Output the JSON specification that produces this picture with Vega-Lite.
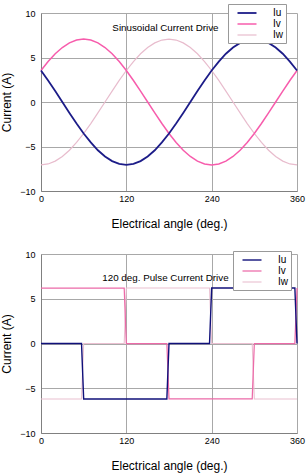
{
  "$schema": "https://vega.github.io/schema/vega-lite/v6.json",
  "background": "white",
  "padding": {"left": 0, "top": 3, "right": 8, "bottom": 2},
  "spacing": 21,
  "datasets": {
    "sine": [
      {"angle": 0, "Iu": 3.54, "Iv": 3.54, "Iw": -7.07},
      {"angle": 10, "Iu": 2.42, "Iv": 4.54, "Iw": -6.96},
      {"angle": 20, "Iu": 1.23, "Iv": 5.42, "Iw": -6.64},
      {"angle": 30, "Iu": 0, "Iv": 6.12, "Iw": -6.12},
      {"angle": 40, "Iu": -1.23, "Iv": 6.64, "Iw": -5.42},
      {"angle": 50, "Iu": -2.42, "Iv": 6.96, "Iw": -4.54},
      {"angle": 60, "Iu": -3.54, "Iv": 7.07, "Iw": -3.54},
      {"angle": 70, "Iu": -4.54, "Iv": 6.96, "Iw": -2.42},
      {"angle": 80, "Iu": -5.42, "Iv": 6.64, "Iw": -1.23},
      {"angle": 90, "Iu": -6.12, "Iv": 6.12, "Iw": 0},
      {"angle": 100, "Iu": -6.64, "Iv": 5.42, "Iw": 1.23},
      {"angle": 110, "Iu": -6.96, "Iv": 4.54, "Iw": 2.42},
      {"angle": 120, "Iu": -7.07, "Iv": 3.54, "Iw": 3.54},
      {"angle": 130, "Iu": -6.96, "Iv": 2.42, "Iw": 4.54},
      {"angle": 140, "Iu": -6.64, "Iv": 1.23, "Iw": 5.42},
      {"angle": 150, "Iu": -6.12, "Iv": 0, "Iw": 6.12},
      {"angle": 160, "Iu": -5.42, "Iv": -1.23, "Iw": 6.64},
      {"angle": 170, "Iu": -4.54, "Iv": -2.42, "Iw": 6.96},
      {"angle": 180, "Iu": -3.54, "Iv": -3.54, "Iw": 7.07},
      {"angle": 190, "Iu": -2.42, "Iv": -4.54, "Iw": 6.96},
      {"angle": 200, "Iu": -1.23, "Iv": -5.42, "Iw": 6.64},
      {"angle": 210, "Iu": 0, "Iv": -6.12, "Iw": 6.12},
      {"angle": 220, "Iu": 1.23, "Iv": -6.64, "Iw": 5.42},
      {"angle": 230, "Iu": 2.42, "Iv": -6.96, "Iw": 4.54},
      {"angle": 240, "Iu": 3.54, "Iv": -7.07, "Iw": 3.54},
      {"angle": 250, "Iu": 4.54, "Iv": -6.96, "Iw": 2.42},
      {"angle": 260, "Iu": 5.42, "Iv": -6.64, "Iw": 1.23},
      {"angle": 270, "Iu": 6.12, "Iv": -6.12, "Iw": 0},
      {"angle": 280, "Iu": 6.64, "Iv": -5.42, "Iw": -1.23},
      {"angle": 290, "Iu": 6.96, "Iv": -4.54, "Iw": -2.42},
      {"angle": 300, "Iu": 7.07, "Iv": -3.54, "Iw": -3.54},
      {"angle": 310, "Iu": 6.96, "Iv": -2.42, "Iw": -4.54},
      {"angle": 320, "Iu": 6.64, "Iv": -1.23, "Iw": -5.42},
      {"angle": 330, "Iu": 6.12, "Iv": 0, "Iw": -6.12},
      {"angle": 340, "Iu": 5.42, "Iv": 1.23, "Iw": -6.64},
      {"angle": 350, "Iu": 4.54, "Iv": 2.42, "Iw": -6.96},
      {"angle": 360, "Iu": 3.54, "Iv": 3.54, "Iw": -7.07}
    ],
    "pulse": [
      {"phase": "Iw", "angle": 0, "current": -6.2},
      {"phase": "Iw", "angle": 57, "current": -6.2},
      {"phase": "Iw", "angle": 60, "current": 0},
      {"phase": "Iw", "angle": 117, "current": 0},
      {"phase": "Iw", "angle": 120, "current": 6.2},
      {"phase": "Iw", "angle": 237, "current": 6.2},
      {"phase": "Iw", "angle": 240, "current": 0},
      {"phase": "Iw", "angle": 297, "current": 0},
      {"phase": "Iw", "angle": 300, "current": -6.2},
      {"phase": "Iw", "angle": 360, "current": -6.2},
      {"phase": "Iv", "angle": 0, "current": 6.2},
      {"phase": "Iv", "angle": 117, "current": 6.2},
      {"phase": "Iv", "angle": 120, "current": 0},
      {"phase": "Iv", "angle": 177, "current": 0},
      {"phase": "Iv", "angle": 180, "current": -6.2},
      {"phase": "Iv", "angle": 297, "current": -6.2},
      {"phase": "Iv", "angle": 300, "current": 0},
      {"phase": "Iv", "angle": 357, "current": 0},
      {"phase": "Iv", "angle": 360, "current": 6.2},
      {"phase": "Iu", "angle": 0, "current": 0},
      {"phase": "Iu", "angle": 57, "current": 0},
      {"phase": "Iu", "angle": 60, "current": -6.2},
      {"phase": "Iu", "angle": 177, "current": -6.2},
      {"phase": "Iu", "angle": 180, "current": 0},
      {"phase": "Iu", "angle": 237, "current": 0},
      {"phase": "Iu", "angle": 240, "current": 6.2},
      {"phase": "Iu", "angle": 357, "current": 6.2},
      {"phase": "Iu", "angle": 360, "current": 0}
    ]
  },
  "config": {
    "view": {"stroke": null},
    "font": "Liberation Sans",
    "axis": {
      "grid": true,
      "gridColor": "#a8a8a8",
      "gridWidth": 1,
      "domainColor": "#808080",
      "domainWidth": 1,
      "ticks": false,
      "labelFont": "Liberation Sans",
      "labelFontSize": 9,
      "labelColor": "#000000",
      "titleFont": "Liberation Sans",
      "titleFontSize": 12,
      "titleFontWeight": "normal",
      "titleColor": "#000000"
    },
    "axisX": {"labelPadding": 3, "titlePadding": 15, "labelFlush": false},
    "axisY": {"labelPadding": 6, "titlePadding": 6},
    "legend": {
      "orient": "none",
      "title": null,
      "symbolType": "M-1.9,0H1.9",
      "symbolSize": 100,
      "symbolOffset": 10,
      "symbolStrokeWidth": 1.5,
      "labelFont": "Liberation Sans",
      "labelFontSize": 10,
      "labelColor": "#000000",
      "labelOffset": 20,
      "rowPadding": 0,
      "padding": 3,
      "strokeColor": "#999999",
      "fillColor": "#ffffff",
      "cornerRadius": 0
    }
  },
  "vconcat": [
    {
      "width": 256,
      "height": 178,
      "layer": [
        {
          "data": {"name": "sine"},
          "transform": [{"fold": ["Iw", "Iv", "Iu"], "as": ["phase", "current"]}],
          "mark": {"type": "line"},
          "encoding": {
            "x": {
              "field": "angle", "type": "quantitative",
              "scale": {"domain": [0, 360], "nice": false},
              "axis": {"values": [0, 120, 240, 360], "title": "Electrical angle (deg.)"}
            },
            "y": {
              "field": "current", "type": "quantitative",
              "scale": {"domain": [-10, 10], "nice": false},
              "axis": {"values": [-10, -5, 0, 5, 10], "title": "Current (A)"}
            },
            "color": {
              "field": "phase", "type": "nominal",
              "scale": {"domain": ["Iu", "Iv", "Iw"], "range": ["#1c1c88", "#f75cac", "#e8bccd"]},
              "legend": {"legendX": 187, "legendY": -9}
            },
            "strokeWidth": {
              "field": "phase", "type": "nominal",
              "scale": {"domain": ["Iu", "Iv", "Iw"], "range": [1.8, 1.2, 1]},
              "legend": null
            }
          }
        },
        {
          "data": {"values": [{"note": "Sinusoidal Current Drive"}]},
          "mark": {"type": "text", "fontSize": 9.8, "baseline": "middle", "align": "center", "color": "#000000"},
          "encoding": {
            "x": {"datum": 175, "type": "quantitative"},
            "y": {"datum": 8.3, "type": "quantitative"},
            "text": {"field": "note"}
          }
        }
      ]
    },
    {
      "width": 256,
      "height": 179,
      "layer": [
        {
          "data": {"name": "pulse"},
          "mark": {"type": "line"},
          "encoding": {
            "x": {
              "field": "angle", "type": "quantitative",
              "scale": {"domain": [0, 360], "nice": false},
              "axis": {"values": [0, 120, 240, 360], "title": "Electrical angle (deg.)"}
            },
            "y": {
              "field": "current", "type": "quantitative",
              "scale": {"domain": [-10, 10], "nice": false},
              "axis": {"values": [-10, -5, 0, 5, 10], "title": "Current (A)"}
            },
            "color": {
              "field": "phase", "type": "nominal",
              "scale": {"domain": ["Iu", "Iv", "Iw"], "range": ["#10107a", "#ec6aa8", "#eabfd0"]},
              "legend": {"legendX": 192, "legendY": -3}
            },
            "strokeWidth": {
              "field": "phase", "type": "nominal",
              "scale": {"domain": ["Iu", "Iv", "Iw"], "range": [1.4, 1.1, 1]},
              "legend": null
            }
          }
        },
        {
          "data": {"values": [{"note": "120 deg. Pulse Current Drive"}]},
          "mark": {"type": "text", "fontSize": 9.8, "baseline": "middle", "align": "center", "color": "#000000"},
          "encoding": {
            "x": {"datum": 175, "type": "quantitative"},
            "y": {"datum": 7.3, "type": "quantitative"},
            "text": {"field": "note"}
          }
        }
      ]
    }
  ],
  "resolve": {"scale": {"color": "independent", "strokeWidth": "independent"}}
}
